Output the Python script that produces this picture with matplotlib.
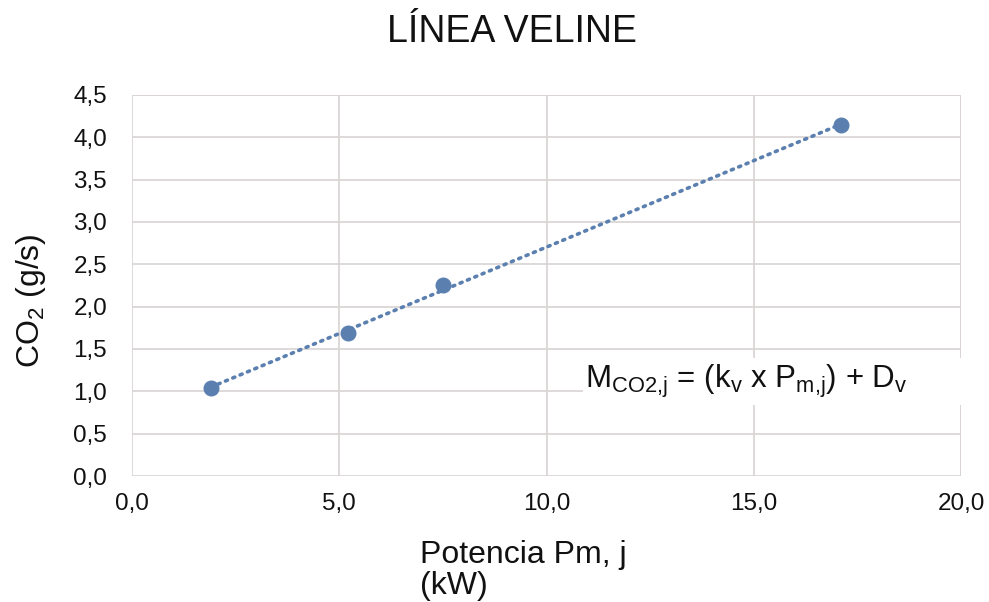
import numpy as np
import matplotlib.pyplot as plt
from matplotlib.patches import Rectangle
from matplotlib.ticker import FuncFormatter

plt.rcParams['font.family'] = ['Liberation Sans', 'DejaVu Sans']
plt.rcParams['mathtext.fontset'] = 'custom'
plt.rcParams['mathtext.rm'] = 'Liberation Sans'

# datos
potencia = [1.9, 5.2, 7.5, 17.1]      # kW
co2 = [1.04, 1.69, 2.25, 4.14]        # g/s
x_ticks = [0, 5, 10, 15, 20]
y_ticks = [0, 0.5, 1.0, 1.5, 2.0, 2.5, 3.0, 3.5, 4.0, 4.5]

color = '#5b80b0'
grid_color = '#d9d3d3'

fig = plt.figure(figsize=(9.89, 6.02), dpi=100)
ax = fig.add_axes([0.1335, 0.2093, 0.8382, 0.6329])

# linea de tendencia (ajuste lineal)
k, d = np.polyfit(potencia, co2, 1)
xt = np.array([min(potencia), max(potencia)])
ax.plot(xt, k * xt + d, linestyle=(0, (0.6, 1.6)), linewidth=2.6,
        color=color, dash_capstyle='round', zorder=3)
ax.plot(potencia, co2, 'o', markersize=10.5, color=color, zorder=4)

ax.set_xlim(0, 20)
ax.set_ylim(0, 4.5)
ax.set_xticks(x_ticks)
ax.set_yticks(y_ticks)
fmt = FuncFormatter(lambda v, p: f'{v:.1f}'.replace('.', ','))
ax.xaxis.set_major_formatter(fmt)
ax.yaxis.set_major_formatter(fmt)
ax.tick_params(length=0, labelsize=17.5, colors='#111111')
ax.tick_params(axis='y', pad=18)
ax.tick_params(axis='x', pad=12)
ax.grid(True, color=grid_color, linewidth=1.2)
ax.set_axisbelow(True)
for s in ax.spines.values():
    s.set_visible(False)
ax.axvline(20, color=grid_color, linewidth=1.2, zorder=0)
ax.axhline(4.5, color=grid_color, linewidth=1.2, zorder=0)

ax.set_title('LÍNEA VELINE', fontsize=27, pad=38, color='#111111', x=0.458)
ax.set_ylabel('CO$_2$ (g/s)', fontsize=23, labelpad=18, color='#111111', y=0.46)
ax.set_xlabel('Potencia Pm, j\n(kW)', fontsize=23, color='#111111',
              ha='left', x=0.347, multialignment='left', labelpad=18,
              linespacing=1.05)

# cuadro de la ecuacion
ax.add_patch(Rectangle((0.544, 0.186), 0.47, 0.124, transform=ax.transAxes,
                       facecolor='white', edgecolor='none', clip_on=False,
                       zorder=5))
ax.text(0.546, 0.248,
        r'M$_{\mathrm{CO2{,}j}}$ = (k$_{\mathrm{v}}$ x P$_{\mathrm{m{,}j}}$) + D$_{\mathrm{v}}$',
        transform=ax.transAxes, fontsize=22.5, va='center', ha='left',
        color='#111111', zorder=6)

fig.savefig('out.png', dpi=100)
